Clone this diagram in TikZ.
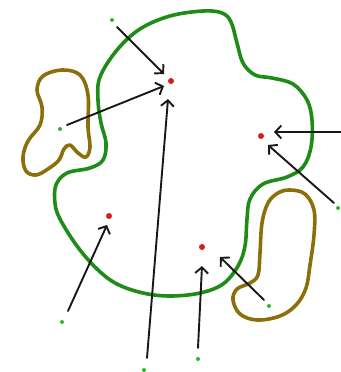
\documentclass[tikz,border=0pt]{standalone}
\usetikzlibrary{arrows.meta}
\definecolor{blobgreen}{RGB}{30,140,22}
\definecolor{blobolive}{RGB}{140,110,10}
\definecolor{dotred}{RGB}{215,30,30}
\definecolor{dotgreen}{RGB}{40,185,40}
\definecolor{ink}{RGB}{25,25,20}
\tikzset{
  reddot/.style={circle,fill=dotred,inner sep=0pt,minimum size=6pt},
  greendot/.style={circle,fill=dotgreen,inner sep=0pt,minimum size=4pt},
  bigblob/.style={draw=blobgreen,line width=3.6pt,line join=round},
  smallblob/.style={draw=blobolive,line width=3.6pt,line join=round},
  pointer/.style={draw=ink,line width=1.9pt,line cap=round,-{Straight Barb[length=6pt,width=13pt,line width=1.9pt]}}
}
\begin{document}
\begin{tikzpicture}[x=1pt,y=-1pt]
\useasboundingbox (0,0) rectangle (340,372);
% green region
\draw[bigblob] plot[smooth cycle,tension=0.6] coordinates {
 (170,16) (203,11) (222,13) (231,22) (237,43) (243,63) (255,75) (272,78)
 (293,84) (307,100) (312,120) (311,147) (303,167) (287,177) (263,184)
 (250,199) (247,219) (245,246) (238,266) (223,284) (200,293) (170,296)
 (143,293) (117,284) (97,269) (77,246) (60,219) (55,203) (56,185) (67,173)
 (90,168) (103,160) (106,143) (101,123) (98,100) (100,77) (117,50) (140,29)};
% olive left
\draw[smallblob] plot[smooth cycle,tension=0.6] coordinates {
 (62,70) (80,75) (88,95) (88,127) (90,147) (86,157) (78,153) (70,145)
 (64,149) (59,160) (48,169) (36,175) (26,171) (23,157) (28,141) (40,125)
 (42,107) (37,90) (43,76)};
% olive right
\draw[smallblob] plot[smooth cycle,tension=0.6] coordinates {
 (290,190) (305,194) (314,210) (314,235) (310,265) (306,288) (296,305)
 (280,316) (257,320) (240,314) (233,300) (237,289) (250,283) (258,275)
 (260,253) (262,223) (268,203) (278,193)};
% red points
\node[reddot] (r1) at (171,81) {};
\node[reddot] (r2) at (261,136) {};
\node[reddot] (r3) at (109,216) {};
\node[reddot] (r4) at (202,247) {};
% green points
\node[greendot] (g1) at (112,20) {};
\node[greendot] (g2) at (60,129) {};
\node[greendot] (g3) at (62,322) {};
\node[greendot] (g4) at (144,370) {};
\node[greendot] (g5) at (198,359) {};
\node[greendot] (g6) at (269,306) {};
\node[greendot] (g7) at (338,208) {};
% arrow ends
\coordinate (a1s) at (117,27);  \coordinate (a1e) at (164,74);
\coordinate (a2s) at (67,125);  \coordinate (a2e) at (164,86);
\coordinate (a3s) at (147,358); \coordinate (a3e) at (168,99);
\coordinate (a4s) at (68,311);  \coordinate (a4e) at (107,225);
\coordinate (a5s) at (198,348); \coordinate (a5e) at (202,266);
\coordinate (a6s) at (264,300); \coordinate (a6e) at (220,257);
\coordinate (a7s) at (334,203); \coordinate (a7e) at (268,145);
\coordinate (a8s) at (341,132); \coordinate (a8e) at (274,132);
\draw[pointer] (a1s) -- (a1e);
\draw[pointer] (a2s) -- (a2e);
\draw[pointer] (a3s) -- (a3e);
\draw[pointer] (a4s) -- (a4e);
\draw[pointer] (a5s) -- (a5e);
\draw[pointer] (a6s) -- (a6e);
\draw[pointer] (a7s) -- (a7e);
\draw[pointer] (a8s) -- (a8e);
\end{tikzpicture}
\end{document}
